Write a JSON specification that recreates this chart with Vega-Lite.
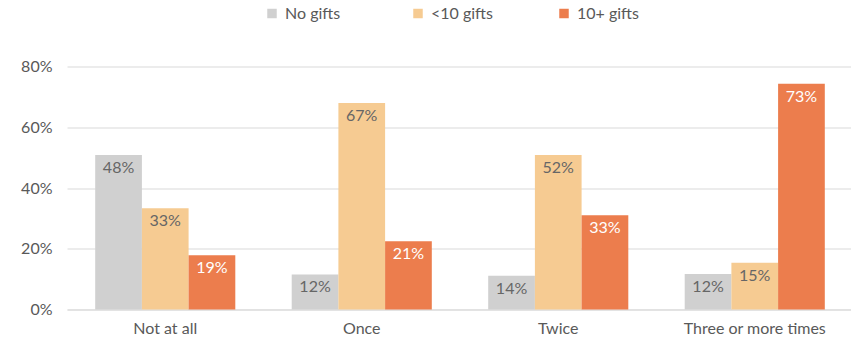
{
  "$schema": "https://vega.github.io/schema/vega-lite/v6.json",
  "width": 786,
  "height": 243,
  "autosize": {"type": "none"},
  "padding": {"left": 67, "top": 66.5, "right": 0, "bottom": 28.5},
  "background": "white",
  "config": {
    "view": {"stroke": null},
    "font": "Lato",
    "axis": {"labelFont": "Lato", "labelColor": "#595959", "titleFont": "Lato"},
    "legend": {"labelFont": "Lato"}
  },
  "data": {
    "values": [
      {"category": "Not at all", "series": "No gifts", "value": 0.509, "label": "48%"},
      {"category": "Not at all", "series": "<10 gifts", "value": 0.333, "label": "33%"},
      {"category": "Not at all", "series": "10+ gifts", "value": 0.179, "label": "19%"},
      {"category": "Once", "series": "No gifts", "value": 0.1155, "label": "12%"},
      {"category": "Once", "series": "<10 gifts", "value": 0.68, "label": "67%"},
      {"category": "Once", "series": "10+ gifts", "value": 0.225, "label": "21%"},
      {"category": "Twice", "series": "No gifts", "value": 0.111, "label": "14%"},
      {"category": "Twice", "series": "<10 gifts", "value": 0.509, "label": "52%"},
      {"category": "Twice", "series": "10+ gifts", "value": 0.31, "label": "33%"},
      {"category": "Three or more times", "series": "No gifts", "value": 0.1165, "label": "12%"},
      {"category": "Three or more times", "series": "<10 gifts", "value": 0.154, "label": "15%"},
      {"category": "Three or more times", "series": "10+ gifts", "value": 0.743, "label": "73%"}
    ]
  },
  "encoding": {
    "x": {
      "field": "category", "type": "nominal",
      "sort": ["Not at all", "Once", "Twice", "Three or more times"],
      "scale": {"paddingInner": 0.287, "paddingOuter": 0.1435},
      "axis": {"title": null, "labelAngle": 0, "ticks": false, "domain": true, "domainColor": "#D9D9D9", "domainWidth": 1, "labelFontSize": 16, "labelPadding": 11, "grid": false}
    },
    "xOffset": {
      "field": "series", "type": "nominal",
      "sort": ["No gifts", "<10 gifts", "10+ gifts"],
      "scale": {"paddingInner": 0, "paddingOuter": 0}
    },
    "y": {
      "field": "value", "type": "quantitative",
      "scale": {"domain": [0, 0.8], "nice": false},
      "axis": {"title": null, "format": "%", "values": [0, 0.2, 0.4, 0.6, 0.8], "grid": true, "gridColor": "#D9D9D9", "gridWidth": 1, "domain": false, "ticks": false, "labelFontSize": 16, "labelPadding": 15}
    }
  },
  "layer": [
    {
      "mark": {"type": "bar"},
      "encoding": {
        "color": {
          "field": "series", "type": "nominal",
          "sort": ["No gifts", "<10 gifts", "10+ gifts"],
          "scale": {"domain": ["No gifts", "<10 gifts", "10+ gifts"], "range": ["#D0D0D0", "#F6CB92", "#EC7D4D"]},
          "legend": {
            "title": null, "orient": "none", "direction": "horizontal",
            "legendX": 197, "legendY": -61,
            "symbolType": "square", "symbolSize": 90, "symbolStrokeWidth": 0,
            "labelFontSize": 16, "labelColor": "#595959", "labelOffset": 5,
            "columnPadding": 63, "gridAlign": "all"
          }
        }
      }
    },
    {
      "mark": {"type": "text", "baseline": "top", "dy": 5, "fontSize": 16},
      "encoding": {
        "text": {"field": "label"},
        "color": {
          "condition": {"test": "datum.series === '10+ gifts'", "value": "#FFFFFF"},
          "value": "#666666"
        }
      }
    }
  ]
}
